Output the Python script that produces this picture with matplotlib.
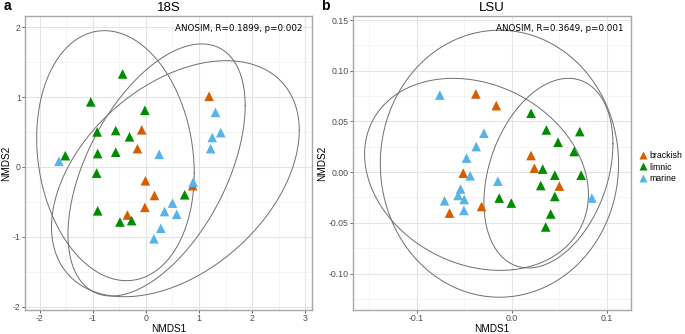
import numpy as np
import matplotlib
matplotlib.use("Agg")
import matplotlib.pyplot as plt
from matplotlib.lines import Line2D
from matplotlib.ticker import MultipleLocator

plt.rcParams["font.family"] = ["Liberation Sans", "DejaVu Sans"]

GROUPS = ["brackish", "limnic", "marine"]
COLORS = {"brackish": "#D55E00", "limnic": "#008B00", "marine": "#56B4E9"}
BORDER, GRID, MINOR, TICK = "#A8A8A8", "#E4E4E4", "#F1F1F1", "#4D4D4D"

# --- 18S NMDS scores ---
s18_x = {
    "brackish": [1.19, -0.08, -0.16, -0.01, 0.16, -0.02, -0.35, 0.88],
    "limnic": [-0.44, -1.04, -0.02, -0.92, -0.57, -0.31, -0.91, -0.57, -1.52,
               -0.93, -0.91, -0.49, -0.27, 0.73],
    "marine": [1.31, 1.41, 1.25, 1.22, 0.25, -1.64, 0.89, 0.50, 0.35, 0.58, 0.28, 0.15],
}
s18_y = {
    "brackish": [1.01, 0.53, 0.26, -0.20, -0.41, -0.58, -0.69, -0.27],
    "limnic": [1.33, 0.93, 0.81, 0.50, 0.52, 0.43, 0.19, 0.21, 0.16,
               -0.09, -0.63, -0.79, -0.77, -0.40],
    "marine": [0.78, 0.49, 0.42, 0.26, 0.18, 0.08, -0.22, -0.52, -0.64, -0.68, -0.88, -1.03],
}
# ellipse: centre x, centre y, half-extent x, half-extent y, correlation
s18_ell = {
    "brackish": (0.20, -0.045, 1.67, 1.805, 0.51),
    "limnic": (-0.575, 0.16, 1.485, 1.79, -0.14),
    "marine": (0.555, -0.17, 2.335, 1.69, 0.41),
}

# --- LSU NMDS scores ---
lsu_x = {
    "brackish": [-0.0377, -0.0162, 0.0204, 0.0239, -0.0510, 0.0502, -0.0317, -0.0654],
    "limnic": [0.0204, 0.0365, 0.0717, 0.0488, 0.0657, 0.0327, 0.0454, 0.0731,
               0.0306, 0.0454, -0.0131, -0.0004, 0.0411, 0.0358],
    "marine": [-0.0756, -0.0292, -0.0373, -0.0475, -0.0437, -0.0145, -0.0538, -0.0563,
               -0.0500, -0.0707, -0.0503, 0.0844],
}
lsu_y = {
    "brackish": [0.0771, 0.0656, 0.0164, 0.0039, -0.0010, -0.0138, -0.0339, -0.0404],
    "limnic": [0.0581, 0.0416, 0.0400, 0.0295, 0.0203, 0.0030, -0.0030, -0.0030,
               -0.0132, -0.0240, -0.0256, -0.0305, -0.0413, -0.0541],
    "marine": [0.0760, 0.0384, 0.0252, 0.0138, -0.0036, -0.0089, -0.0167, -0.0230,
               -0.0270, -0.0283, -0.0378, -0.0256],
}
lsu_ell = {
    "brackish": (-0.0129, 0.0083, 0.1254, 0.1317, 0.0),
    "limnic": (0.0387, -0.001, 0.0679, 0.0935, 0.31),
    "marine": (-0.037, -0.0022, 0.1178, 0.0947, -0.21),
}

panels = [
    dict(tag="a", title="18S", x=s18_x, y=s18_y, ell=s18_ell,
         stat="ANOSIM, R=0.1899, p=0.002", xlim=(-2.28, 3.13), ylim=(-2.05, 2.16),
         xmaj=1, ymaj=1),
    dict(tag="b", title="LSU", x=lsu_x, y=lsu_y, ell=lsu_ell,
         stat="ANOSIM, R=0.3649, p=0.001", xlim=(-0.167, 0.1256), ylim=(-0.136, 0.154),
         xmaj=0.1, ymaj=0.05),
]

W, H = 685, 334
fig = plt.figure(figsize=(W / 100, H / 100), dpi=100)
boxes = [(25, 312), (353, 631)]
top, bottom = 16, 310

t = np.linspace(0, 2 * np.pi, 300)
for p, (x0, x1) in zip(panels, boxes):
    ax = fig.add_axes([x0 / W, (H - bottom) / H, (x1 - x0) / W, (bottom - top) / H])
    ax.set_xlim(*p["xlim"])
    ax.set_ylim(*p["ylim"])
    ax.xaxis.set_major_locator(MultipleLocator(p["xmaj"]))
    ax.yaxis.set_major_locator(MultipleLocator(p["ymaj"]))
    ax.xaxis.set_minor_locator(MultipleLocator(p["xmaj"] / 2))
    ax.yaxis.set_minor_locator(MultipleLocator(p["ymaj"] / 2))
    if p["tag"] == "a":
        ax.xaxis.set_major_formatter(lambda v, pos: f"{v:g}")
        ax.yaxis.set_major_formatter(lambda v, pos: f"{v:g}")
    else:
        ax.xaxis.set_major_formatter(lambda v, pos: f"{v:.1f}")
        ax.yaxis.set_major_formatter(lambda v, pos: f"{v:.2f}")
    ax.grid(which="major", color=GRID, linewidth=0.8)
    ax.grid(which="minor", color=MINOR, linewidth=0.5)
    ax.set_axisbelow(True)
    ax.tick_params(which="major", length=2, width=0.6, color=TICK, labelcolor=TICK,
                   labelsize=6.3, pad=1)
    ax.tick_params(which="minor", length=0)
    for s in ax.spines.values():
        s.set_color(BORDER)
        s.set_linewidth(1.0)

    for g in GROUPS:
        cx, cy, a, b, r = p["ell"][g]
        phi = np.arccos(r)
        ax.plot(cx + a * np.cos(t), cy + b * np.cos(t - phi), color="#6E6E6E", lw=0.7, zorder=2)
    for g in GROUPS:
        ax.scatter(p["x"][g], p["y"][g], marker="^", s=48, color=COLORS[g],
                   edgecolors="none", zorder=3)

    ax.text(0.744, 0.956, p["stat"], transform=ax.transAxes, ha="center", va="center",
            fontsize=6.3, family="DejaVu Sans", color="black")
    ax.set_title(p["title"], fontsize=9.5, pad=3.5)
    ax.set_xlabel("NMDS1", fontsize=7.2, labelpad=0.5)
    ax.set_ylabel("NMDS2", fontsize=7.2, labelpad=1)

fig.text(4 / W, 1 - 6 / H, "a", fontsize=10, fontweight="bold", va="center", ha="left")
fig.text(321 / W, 1 - 6 / H, "b", fontsize=10, fontweight="bold", va="center", ha="left")

handles = [Line2D([], [], marker="^", linestyle="none", markersize=6.3,
                  markerfacecolor=COLORS[g], markeredgecolor="none") for g in GROUPS]
fig.legend(handles, GROUPS, loc="center left", bbox_to_anchor=(636 / W, 1 - 167 / H),
           frameon=False, fontsize=6.3, handlelength=0.7, handletextpad=0.3,
           labelspacing=0.25, borderpad=0)

fig.savefig("out.png", dpi=100)
